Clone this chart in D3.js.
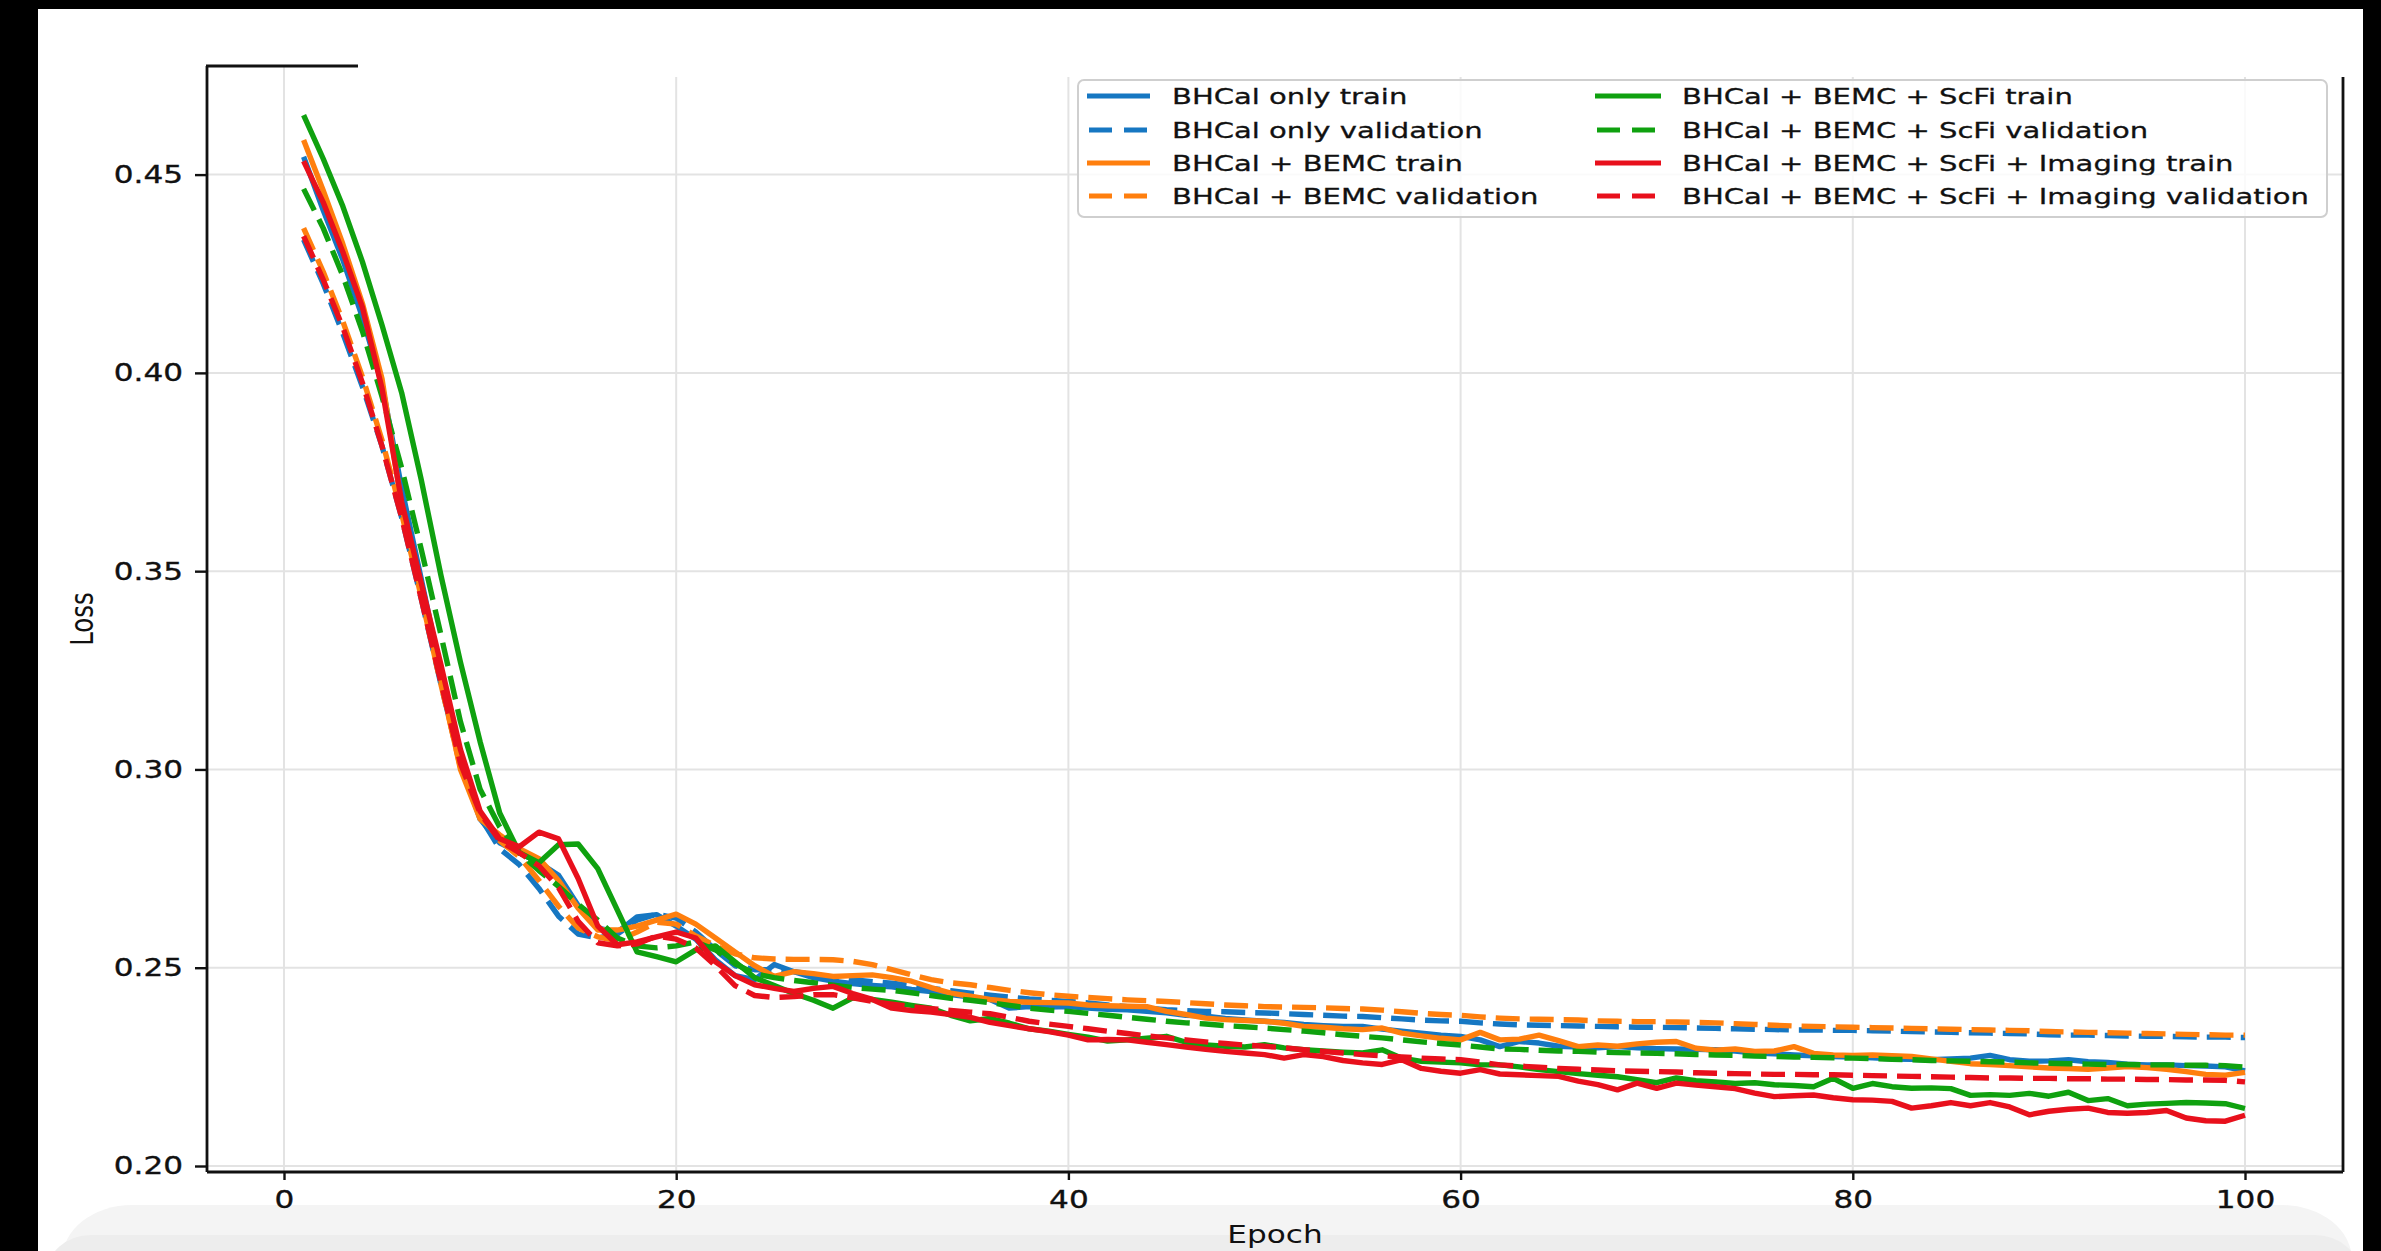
<!DOCTYPE html>
<html><head><meta charset="utf-8">
<script src="https://cdn.jsdelivr.net/npm/d3@7"></script>
<style>html,body{margin:0;padding:0;background:#000;overflow:hidden}</style>
</head><body>
<svg id="chart" width="2381" height="1251"></svg>
<script>
const epochs = d3.range(1, 101);
const xTicks = [0, 20, 40, 60, 80, 100];
const yTicks = [0.20, 0.25, 0.30, 0.35, 0.40, 0.45];
const xLabel = "Epoch";
const yLabel = "Loss";

const bhcalTrain = [
0.4545,0.4410,0.4285,0.4140,0.3970,0.3710,0.3480,0.3245,0.3015,0.2875,
0.2815,0.2790,0.2765,0.2733,0.2657,0.2600,0.2590,0.2628,0.2634,0.2605,
0.2572,0.2520,0.2480,0.2470,0.2508,0.2490,0.2475,0.2466,0.2460,0.2455,
0.2452,0.2445,0.2440,0.2432,0.2426,0.2420,0.2398,0.2402,0.2401,0.2402,
0.2398,0.2395,0.2394,0.2390,0.2386,0.2380,0.2378,0.2372,0.2368,0.2365,
0.2362,0.2357,0.2354,0.2352,0.2352,0.2345,0.2340,0.2335,0.2330,0.2327,
0.2318,0.2301,0.2314,0.2310,0.2302,0.2300,0.2298,0.2301,0.2298,0.2296,
0.2295,0.2294,0.2293,0.2290,0.2285,0.2283,0.2280,0.2278,0.2276,0.2275,
0.2273,0.2270,0.2269,0.2268,0.2270,0.2272,0.2279,0.2268,0.2264,0.2265,
0.2268,0.2263,0.2261,0.2257,0.2255,0.2255,0.2253,0.2252,0.2250,0.2240];
const bhcalVal = [
0.4336,0.4225,0.4100,0.3965,0.3815,0.3635,0.3430,0.3215,0.3010,0.2880,
0.2800,0.2760,0.2700,0.2630,0.2585,0.2575,0.2585,0.2620,0.2635,0.2625,
0.2590,0.2545,0.2505,0.2495,0.2495,0.2490,0.2483,0.2476,0.2470,0.2465,
0.2461,0.2455,0.2448,0.2442,0.2436,0.2431,0.2426,0.2421,0.2418,0.2415,
0.2411,0.2406,0.2402,0.2398,0.2394,0.2392,0.2390,0.2389,0.2387,0.2386,
0.2384,0.2382,0.2380,0.2378,0.2377,0.2374,0.2371,0.2368,0.2366,0.2365,
0.2361,0.2358,0.2356,0.2355,0.2354,0.2353,0.2352,0.2351,0.2350,0.2350,
0.2349,0.2348,0.2347,0.2346,0.2345,0.2344,0.2343,0.2343,0.2342,0.2342,
0.2341,0.2340,0.2339,0.2338,0.2337,0.2336,0.2335,0.2334,0.2333,0.2331,
0.2330,0.2330,0.2329,0.2328,0.2327,0.2327,0.2326,0.2325,0.2325,0.2324];
const bemcTrain = [
0.4587,0.4460,0.4325,0.4175,0.3985,0.3665,0.3445,0.3225,0.3000,0.2875,
0.2835,0.2800,0.2775,0.2720,0.2650,0.2595,0.2595,0.2605,0.2620,0.2635,
0.2610,0.2575,0.2540,0.2505,0.2478,0.2490,0.2485,0.2478,0.2480,0.2482,
0.2475,0.2466,0.2450,0.2436,0.2428,0.2420,0.2415,0.2413,0.2412,0.2411,
0.2406,0.2404,0.2403,0.2402,0.2390,0.2382,0.2373,0.2369,0.2367,0.2365,
0.2360,0.2352,0.2350,0.2346,0.2344,0.2348,0.2335,0.2328,0.2322,0.2318,
0.2337,0.2318,0.2320,0.2330,0.2316,0.2301,0.2305,0.2302,0.2308,0.2312,
0.2314,0.2297,0.2292,0.2295,0.2289,0.2290,0.2301,0.2284,0.2280,0.2279,
0.2280,0.2278,0.2276,0.2270,0.2264,0.2258,0.2256,0.2253,0.2250,0.2247,
0.2246,0.2244,0.2247,0.2251,0.2248,0.2244,0.2238,0.2231,0.2229,0.2236];
const bemcVal = [
0.4365,0.4255,0.4130,0.3990,0.3830,0.3645,0.3435,0.3215,0.3005,0.2890,
0.2820,0.2780,0.2720,0.2655,0.2600,0.2578,0.2568,0.2590,0.2615,0.2610,
0.2580,0.2555,0.2535,0.2525,0.2522,0.2521,0.2521,0.2520,0.2516,0.2508,
0.2495,0.2482,0.2470,0.2462,0.2457,0.2450,0.2443,0.2437,0.2432,0.2428,
0.2425,0.2422,0.2419,0.2417,0.2415,0.2412,0.2409,0.2406,0.2404,0.2402,
0.2401,0.2400,0.2399,0.2397,0.2396,0.2393,0.2389,0.2385,0.2382,0.2380,
0.2376,0.2373,0.2371,0.2370,0.2369,0.2368,0.2366,0.2365,0.2364,0.2364,
0.2363,0.2362,0.2361,0.2359,0.2357,0.2355,0.2353,0.2352,0.2351,0.2350,
0.2349,0.2348,0.2347,0.2346,0.2345,0.2344,0.2343,0.2342,0.2341,0.2339,
0.2338,0.2337,0.2336,0.2335,0.2334,0.2333,0.2332,0.2331,0.2330,0.2330];
const scfiTrain = [
0.4650,0.4540,0.4420,0.4280,0.4120,0.3950,0.3730,0.3490,0.3270,0.3070,
0.2890,0.2790,0.2765,0.2810,0.2812,0.2750,0.2645,0.2540,0.2528,0.2515,
0.2545,0.2555,0.2515,0.2475,0.2455,0.2435,0.2418,0.2398,0.2424,0.2420,
0.2413,0.2405,0.2398,0.2380,0.2366,0.2372,0.2360,0.2346,0.2340,0.2332,
0.2325,0.2315,0.2318,0.2322,0.2327,0.2312,0.2305,0.2302,0.2300,0.2306,
0.2298,0.2293,0.2290,0.2287,0.2285,0.2293,0.2272,0.2264,0.2262,0.2260,
0.2255,0.2255,0.2250,0.2243,0.2238,0.2233,0.2229,0.2225,0.2218,0.2210,
0.2222,0.2215,0.2212,0.2208,0.2210,0.2205,0.2203,0.2200,0.2221,0.2196,
0.2208,0.2200,0.2196,0.2197,0.2195,0.2178,0.2180,0.2178,0.2183,0.2176,
0.2186,0.2165,0.2170,0.2152,0.2156,0.2158,0.2160,0.2159,0.2157,0.2145];
const scfiVal = [
0.4464,0.4365,0.4245,0.4105,0.3940,0.3760,0.3555,0.3340,0.3120,0.2950,
0.2855,0.2790,0.2745,0.2705,0.2660,0.2620,0.2575,0.2555,0.2550,0.2555,
0.2565,0.2545,0.2510,0.2485,0.2475,0.2468,0.2462,0.2456,0.2450,0.2446,
0.2443,0.2437,0.2430,0.2423,0.2418,0.2412,0.2405,0.2398,0.2393,0.2390,
0.2385,0.2380,0.2375,0.2370,0.2365,0.2361,0.2358,0.2354,0.2351,0.2348,
0.2344,0.2340,0.2336,0.2331,0.2327,0.2323,0.2318,0.2313,0.2309,0.2305,
0.2300,0.2295,0.2294,0.2292,0.2290,0.2289,0.2287,0.2286,0.2285,0.2284,
0.2283,0.2281,0.2280,0.2279,0.2277,0.2276,0.2275,0.2274,0.2273,0.2272,
0.2271,0.2269,0.2268,0.2266,0.2265,0.2264,0.2263,0.2262,0.2260,0.2259,
0.2258,0.2257,0.2256,0.2256,0.2255,0.2255,0.2254,0.2254,0.2253,0.2249];
const imagingTrain = [
0.4534,0.4430,0.4305,0.4165,0.3960,0.3675,0.3470,0.3265,0.3050,0.2895,
0.2825,0.2805,0.2842,0.2825,0.2725,0.2605,0.2558,0.2565,0.2578,0.2590,
0.2575,0.2515,0.2480,0.2457,0.2448,0.2440,0.2448,0.2453,0.2435,0.2420,
0.2398,0.2392,0.2388,0.2382,0.2375,0.2362,0.2354,0.2346,0.2339,0.2330,
0.2318,0.2319,0.2318,0.2312,0.2306,0.2300,0.2294,0.2289,0.2285,0.2281,
0.2272,0.2281,0.2276,0.2266,0.2260,0.2256,0.2268,0.2246,0.2239,0.2234,
0.2243,0.2232,0.2230,0.2228,0.2226,0.2214,0.2205,0.2192,0.2209,0.2196,
0.2209,0.2204,0.2200,0.2195,0.2184,0.2175,0.2177,0.2179,0.2172,0.2167,
0.2166,0.2163,0.2146,0.2152,0.2160,0.2152,0.2160,0.2149,0.2129,0.2138,
0.2143,0.2146,0.2135,0.2133,0.2135,0.2140,0.2121,0.2114,0.2113,0.2128];
const imagingVal = [
0.4345,0.4235,0.4115,0.3975,0.3815,0.3635,0.3430,0.3220,0.3015,0.2890,
0.2820,0.2790,0.2757,0.2702,0.2617,0.2563,0.2555,0.2560,0.2580,0.2572,
0.2550,0.2505,0.2455,0.2430,0.2425,0.2427,0.2432,0.2432,0.2424,0.2415,
0.2408,0.2402,0.2397,0.2392,0.2388,0.2384,0.2375,0.2365,0.2358,0.2352,
0.2346,0.2340,0.2334,0.2328,0.2323,0.2318,0.2313,0.2309,0.2305,0.2302,
0.2298,0.2293,0.2289,0.2285,0.2281,0.2278,0.2275,0.2272,0.2270,0.2268,
0.2262,0.2255,0.2252,0.2249,0.2246,0.2244,0.2242,0.2240,0.2239,0.2238,
0.2237,0.2235,0.2234,0.2233,0.2232,0.2231,0.2231,0.2230,0.2230,0.2229,
0.2228,0.2227,0.2226,0.2225,0.2224,0.2223,0.2222,0.2222,0.2221,0.2221,
0.2220,0.2220,0.2219,0.2219,0.2218,0.2218,0.2217,0.2217,0.2216,0.2212];

const seriesLabels = [
 "BHCal only train","BHCal only validation",
 "BHCal + BEMC train","BHCal + BEMC validation",
 "BHCal + BEMC + ScFi train","BHCal + BEMC + ScFi validation",
 "BHCal + BEMC + ScFi + Imaging train","BHCal + BEMC + ScFi + Imaging validation"];
const seriesValues = [bhcalTrain, bhcalVal, bemcTrain, bemcVal, scfiTrain, scfiVal, imagingTrain, imagingVal];
const seriesColors = ["#1677c2","#1677c2","#ff7f0e","#ff7f0e","#0fa10f","#0fa10f","#e8101c","#e8101c"];
const seriesDashed = [false,true,false,true,false,true,false,true];

// ---------- layout ----------
const L = 207, R = 2343, T = 66, B = 1172;
const FONT = "'DejaVu Sans', sans-serif";
const SX = 1.27;      // horizontal stretch of the source image text
const LSX = 1.32;

const svg = d3.select("#chart");
svg.append("rect").attr("width",2381).attr("height",1251).attr("fill","#000");
svg.append("rect").attr("x",38).attr("y",9).attr("width",2325).attr("height",1242).attr("fill","#fff");
// bottom gray bands
svg.append("rect").attr("x",62).attr("y",1205).attr("width",2290).attr("height",110).attr("rx",70).attr("fill","#f4f4f4");
svg.append("rect").attr("x",46).attr("y",1235).attr("width",2314).attr("height",80).attr("rx",45).attr("fill","#ededed");

const x = d3.scaleLinear().domain([0,100]).range([284, 2245]);
const y = d3.scaleLinear().domain([0.20,0.45]).range([1166, 174.6]);

// grid
const grid = svg.append("g").attr("stroke","#e3e3e3").attr("stroke-width",2);
grid.selectAll(".vg").data(xTicks).join("line")
  .attr("x1",d=>x(d)).attr("x2",d=>x(d)).attr("y1",T).attr("y2",B);
grid.selectAll(".hg").data(yTicks).join("line")
  .attr("x1",L).attr("x2",R).attr("y1",d=>y(d)).attr("y2",d=>y(d));

// lines
const line = d3.line().x((d,i)=>x(epochs[i])).y(d=>y(d));
seriesValues.forEach((vals,k)=>{
  svg.append("path").datum(vals).attr("d",line)
    .attr("fill","none").attr("stroke",seriesColors[k]).attr("stroke-width",5.4)
    .attr("stroke-linejoin","round")
    .attr("stroke-dasharray", seriesDashed[k] ? "24,10" : null);
});

// spines
const sp = svg.append("g").attr("stroke","#111").attr("stroke-width",2.8).attr("fill","none");
sp.append("line").attr("x1",L).attr("x2",L).attr("y1",T).attr("y2",B);
sp.append("line").attr("x1",R).attr("x2",R).attr("y1",T).attr("y2",B);
sp.append("line").attr("x1",L).attr("x2",R).attr("y1",B).attr("y2",B);
sp.append("line").attr("x1",L-1).attr("x2",R).attr("y1",T).attr("y2",T);
// white patch that hides the top of the frame in the source image
svg.append("rect").attr("x",358).attr("y",50).attr("width",2000).attr("height",27).attr("fill","#fff");

// axes
const yAxis = svg.append("g").attr("transform",`translate(${L},0)`)
  .call(d3.axisLeft(y).tickValues(yTicks).tickSize(12).tickPadding(12).tickFormat(d3.format(".2f")));
const xAxis = svg.append("g").attr("transform",`translate(0,${B})`)
  .call(d3.axisBottom(x).tickValues(xTicks).tickSize(8).tickPadding(10.5).tickFormat(d3.format("d")));
[yAxis,xAxis].forEach(g=>{
  g.select(".domain").remove();
  g.selectAll(".tick line").attr("stroke","#111").attr("stroke-width",2.4);
  g.selectAll(".tick text").attr("fill","#111").attr("stroke","#111").attr("stroke-width",0.35)
    .style("font-family",FONT).style("font-size","24.5px");
});
yAxis.selectAll(".tick text").attr("x",-24/SX).attr("transform",`scale(${SX},1)`);
xAxis.selectAll(".tick text").attr("transform",`scale(${SX},1)`);

// axis labels
svg.append("text").text(xLabel).attr("text-anchor","middle")
  .attr("transform",`translate(${(L+R)/2},1243) scale(${SX},1)`)
  .style("font-family",FONT).style("font-size","24.5px").attr("fill","#111");
svg.append("text").text(yLabel).attr("text-anchor","middle")
  .attr("transform",`translate(93,${(T+B)/2}) scale(${SX},1) rotate(-90)`)
  .style("font-family",FONT).style("font-size","24.5px").attr("fill","#111");

// legend
const lg = svg.append("g");
lg.append("rect").attr("x",1078).attr("y",80).attr("width",1249).attr("height",137).attr("rx",6)
  .attr("fill","#fff").attr("fill-opacity",0.82).attr("stroke","#cfcfcf").attr("stroke-width",2);
const colX = [[1087,1150,1172],[1595,1661,1682]];
const rowBase = [104,138,171,204];
seriesLabels.forEach((lab,k)=>{
  const c = colX[Math.floor(k/4)], r = k%4, by = rowBase[r];
  const ly = by - 8;
  lg.append("line")
    .attr("x1", seriesDashed[k] ? c[0]+2 : c[0]).attr("x2", seriesDashed[k] ? c[1]-2 : c[1])
    .attr("y1",ly).attr("y2",ly)
    .attr("stroke",seriesColors[k]).attr("stroke-width",5)
    .attr("stroke-dasharray", seriesDashed[k] ? "23,12" : null);
  lg.append("text").text(lab)
    .attr("transform",`translate(${c[2]},${by}) scale(${LSX},1)`)
    .attr("stroke","#111").attr("stroke-width",0.3)
    .style("font-family",FONT).style("font-size","22px").attr("fill","#111");
});
</script>
</body></html>
